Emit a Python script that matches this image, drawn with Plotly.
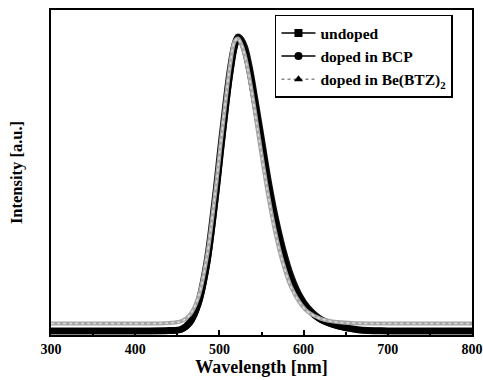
import plotly.graph_objects as go

# Wavelength grid (nm) and intensities (normalised, a.u.)
wavelength = [300, 350, 400, 440, 455, 465, 475, 485, 495, 502, 508, 513, 518, 522, 526,
              530, 536, 542, 550, 558, 566, 575, 585, 595, 605, 620, 640, 665, 700, 750, 800]
undoped = [0.0, 0.0, 0.0, 0.001, 0.006, 0.03, 0.095, 0.23, 0.45, 0.63, 0.78, 0.89, 0.97, 1.0, 0.99,
           0.965, 0.89, 0.79, 0.65, 0.51, 0.39, 0.28, 0.185, 0.12, 0.078, 0.04, 0.018, 0.004, 0.0, 0.0, 0.0]
doped_bcp = [0.0, 0.0, 0.0, 0.001, 0.005, 0.027, 0.09, 0.22, 0.44, 0.62, 0.77, 0.88, 0.965, 0.995, 0.985,
             0.955, 0.88, 0.78, 0.64, 0.50, 0.38, 0.27, 0.175, 0.115, 0.074, 0.038, 0.016, 0.003, 0.0, 0.0, 0.0]
doped_bebtz = [0.025, 0.025, 0.025, 0.027, 0.033, 0.055, 0.115, 0.25, 0.47, 0.65, 0.80, 0.91, 0.985, 0.995, 0.975,
               0.94, 0.855, 0.75, 0.60, 0.46, 0.34, 0.235, 0.15, 0.098, 0.065, 0.042, 0.03, 0.026, 0.025, 0.025, 0.025]

names = ["undoped", "doped in BCP", "doped in Be(BTZ)<sub>2</sub>"]
symbols = ["square", "circle", "triangle-up"]

serif = "Liberation Serif"
fig = go.Figure()

# curves
fig.add_trace(go.Scatter(x=wavelength, y=undoped, mode="lines", line=dict(color="#111111", width=7, shape="spline"),
                         showlegend=False, hoverinfo="skip"))
fig.add_trace(go.Scatter(x=wavelength, y=doped_bcp, mode="lines", line=dict(color="#000000", width=6, shape="spline"),
                         showlegend=False, hoverinfo="skip"))
fig.add_trace(go.Scatter(x=wavelength, y=doped_bebtz, mode="lines", line=dict(color="#a5a5a5", width=4, shape="spline"),
                         showlegend=False, hoverinfo="skip"))
fig.add_trace(go.Scatter(x=wavelength, y=doped_bebtz, mode="lines", line=dict(color="#dcdcdc", width=1.5, dash="dot", shape="spline"),
                         showlegend=False, hoverinfo="skip"))

# legend entries
legend_styles = [dict(color="black", width=1.5, dash="solid"),
                 dict(color="black", width=1.5, dash="solid"),
                 dict(color="#888888", width=1.5, dash="dot")]
for name, sym, ls in zip(names, symbols, legend_styles):
    fig.add_trace(go.Scatter(x=[None], y=[None], mode="lines+markers", name=name,
                             line=ls, marker=dict(symbol=sym, size=8, color="black")))

fig.update_layout(
    width=483, height=380,
    margin=dict(l=51, r=11, t=10, b=45, autoexpand=False),
    paper_bgcolor="white", plot_bgcolor="white",
    font=dict(family=serif, color="black", size=14),
    legend=dict(x=0.532, y=0.985, xanchor="left", yanchor="top",
                bgcolor="white", bordercolor="black", borderwidth=1.5,
                font=dict(family=serif, size=15.5, color="black", weight="bold"),
                itemwidth=34, tracegroupgap=0),
    xaxis=dict(range=[300, 800], dtick=100, tick0=300, automargin=False,
               showline=True, mirror=True, linecolor="black", linewidth=2,
               ticks="inside", ticklen=5, tickcolor="black", tickwidth=1.5,
               minor=dict(ticks="inside", ticklen=3, dtick=50, tickcolor="black"),
               showgrid=False, zeroline=False,
               tickfont=dict(family=serif, size=14, weight="bold"),
               title=dict(text="Wavelength [nm]", font=dict(family=serif, size=18, weight="bold"), standoff=0)),
    yaxis=dict(range=[-0.014, 1.092], showticklabels=False, ticks="", automargin=False,
               showline=True, mirror=True, linecolor="black", linewidth=2,
               showgrid=False, zeroline=False,
               title=dict(text="Intensity [a.u.]", font=dict(family=serif, size=16.5, weight="bold"), standoff=22)),
)

fig.write_html("out.html", config={"displayModeBar": False},
               post_script="document.body.style.margin='0';document.body.style.overflow='hidden';")
